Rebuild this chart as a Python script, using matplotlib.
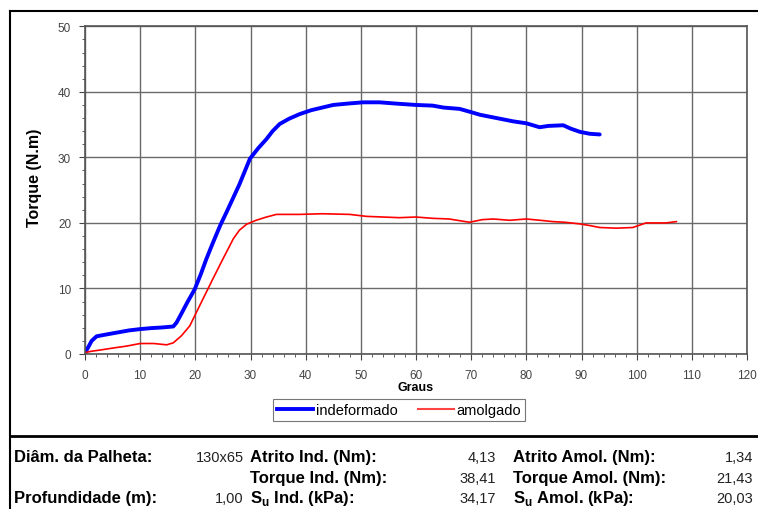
import matplotlib
matplotlib.use("Agg")
import matplotlib.pyplot as plt
from matplotlib.lines import Line2D
from matplotlib.ticker import MultipleLocator

plt.rcParams['font.family'] = ['Liberation Sans', 'DejaVu Sans']
plt.rcParams['mathtext.fontset'] = 'custom'
plt.rcParams['mathtext.rm'] = 'Liberation Sans'
plt.rcParams['mathtext.bf'] = 'Liberation Sans:bold'

# curva indeformado (graus, torque)
x_ind = [0, 0.5, 1.2, 2.1, 4, 6, 8, 10, 12, 14, 16, 16.6, 17.5, 18.5, 19.9, 21, 22, 23.2, 24.5,
         25.8, 26.9, 28, 29.9, 31.4, 32.9, 34, 35.3, 37, 38.9, 41, 43, 45, 47.5, 50.4, 53.4,
         56.5, 60, 63, 65, 67.9, 70, 71.6, 74, 77.6, 80, 82.4, 84, 86.7, 88, 89.7, 91.5, 93.3]
y_ind = [0.25, 0.9, 2.0, 2.7, 3.0, 3.3, 3.6, 3.8, 3.95, 4.05, 4.2, 4.8, 6.2, 7.8, 9.9, 12.2, 14.5, 17.0, 19.6,
         21.9, 23.9, 25.9, 29.8, 31.4, 32.8, 34.0, 35.1, 35.9, 36.6, 37.2, 37.6, 38.0, 38.2, 38.4, 38.4,
         38.2, 38.0, 37.9, 37.6, 37.4, 36.9, 36.5, 36.1, 35.5, 35.2, 34.6, 34.8, 34.9, 34.4, 33.9, 33.6, 33.5]

# curva amolgado
x_amo = [0, 1, 2.7, 5, 7.5, 10, 12.5, 14.8, 16, 17.5, 19, 20.8, 23.2, 25, 26.9, 28, 29.3, 31,
         32.9, 34.7, 38.9, 43, 48, 51, 54, 57, 60, 63, 66, 69.7, 72, 74, 77, 80, 82.5, 84.8,
         87, 89.7, 91.5, 93.3, 96.3, 99.3, 101.7, 103.5, 105.3, 107.2]
y_amo = [0.2, 0.4, 0.6, 0.9, 1.2, 1.6, 1.6, 1.4, 1.7, 2.8, 4.3, 7.4, 11.5, 14.5, 17.6, 18.9, 19.8, 20.4,
         20.9, 21.3, 21.3, 21.4, 21.3, 21.0, 20.9, 20.8, 20.9, 20.7, 20.6, 20.1, 20.5, 20.6, 20.4, 20.6, 20.4, 20.2,
         20.1, 19.85, 19.6, 19.3, 19.2, 19.3, 20.0, 20.0, 20.0, 20.2]

# tabela de resultados
col1_labels = ['Diâm. da Palheta:', '', 'Profundidade (m):']
col1_values = ['130x65', '', '1,00']
col2_labels = ['Atrito Ind. (Nm):', 'Torque Ind. (Nm):', r'S$_\mathbf{u}$ Ind. (kPa):']
col2_values = ['4,13', '38,41', '34,17']
col3_labels = ['Atrito Amol. (Nm):', 'Torque Amol. (Nm):', r'S$_\mathbf{u}$ Amol. (kPa):']
col3_values = ['1,34', '21,43', '20,03']

W, H = 758, 510
fig = plt.figure(figsize=(W / 100, H / 100), dpi=100)
ax = fig.add_axes([85 / W, 1 - 355 / H, 662 / W, 327.7 / H])

ax.plot(x_ind, y_ind, color='#0000ff', lw=2.8, label='indeformado', solid_capstyle='round')
ax.plot(x_amo, y_amo, color='#ff0000', lw=1.2, label='amolgado')

ax.set_xlim(0, 120)
ax.set_ylim(0, 50)
ax.xaxis.set_major_locator(MultipleLocator(10))
ax.xaxis.set_minor_locator(MultipleLocator(2))
ax.yaxis.set_major_locator(MultipleLocator(10))
ax.yaxis.set_minor_locator(MultipleLocator(2))
ax.grid(True, which='major', color='#6a6a6a', lw=1.0)
ax.set_axisbelow(True)
ax.tick_params(which='major', length=4, color='#444444', labelsize=8.5, labelcolor='#444444')
ax.tick_params(axis='y', which='major', pad=6)
ax.tick_params(axis='x', which='major', pad=7)
ax.tick_params(which='minor', length=2.5, color='#444444')
for s in ax.spines.values():
    s.set_color('#555555')
    s.set_linewidth(1.2)

ax.set_ylabel('Torque (N.m)', fontsize=11.5, fontweight='bold')
ax.yaxis.set_label_coords(-43 / 662, (355 - 178) / 327.7)
fig.text(416 / W, 1 - 388 / H, 'Graus', fontsize=9, fontweight='bold', ha='center', va='center')

handles = [Line2D([], [], color='#0000ff', lw=2.8), Line2D([], [], color='#ff4444', lw=1.5)]
leg = fig.legend(handles, ['indeformado', 'amolgado'], loc='center', ncol=2,
                 bbox_to_anchor=(399 / W, 1 - 411 / H), fontsize=10.5, frameon=True,
                 fancybox=False, edgecolor='#555555', handlelength=2.5, handletextpad=0.15,
                 columnspacing=1.4, borderpad=0.25, borderaxespad=0)
leg.get_frame().set_linewidth(0.8)

# moldura
fig.add_artist(Line2D([10 / W, 1], [1 - 12 / H, 1 - 12 / H], color='black', lw=1.5))
fig.add_artist(Line2D([10 / W, 10 / W], [1 - 12 / H, 0], color='black', lw=1.5))
fig.add_artist(Line2D([10 / W, 1], [1 - 437 / H, 1 - 437 / H], color='black', lw=2))

rows_y = [458, 479, 499]
for i, yy in enumerate(rows_y):
    fy = 1 - yy / H
    fig.text(14 / W, fy, col1_labels[i], fontweight='bold', ha='left', va='center', fontsize=12)
    fig.text(244 / W, fy, col1_values[i], ha='right', va='center', fontsize=10.5, color='#222222')
    fig.text(250 / W, fy, col2_labels[i], fontweight='bold', ha='left', va='center', fontsize=12)
    fig.text(496 / W, fy, col2_values[i], ha='right', va='center', fontsize=10.5, color='#222222')
    fig.text(513 / W, fy, col3_labels[i], fontweight='bold', ha='left', va='center', fontsize=12)
    fig.text(753 / W, fy, col3_values[i], ha='right', va='center', fontsize=10.5, color='#222222')

fig.savefig('out.png', dpi=100)
